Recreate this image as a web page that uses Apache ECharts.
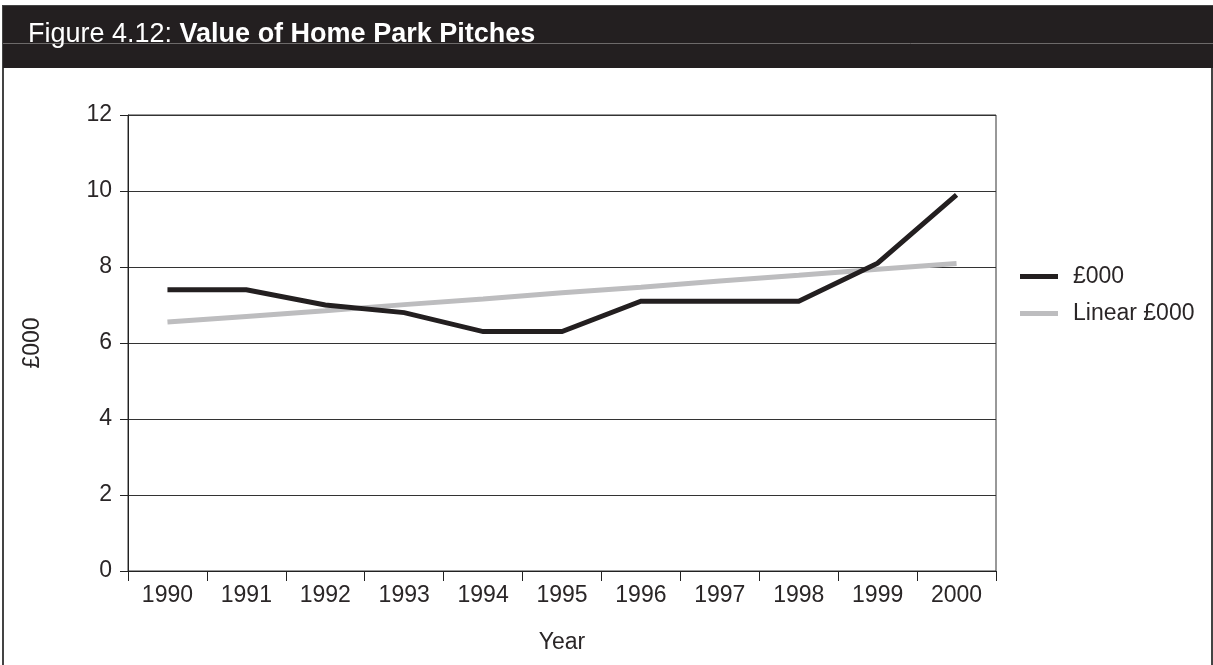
<!DOCTYPE html>
<html>
<head>
<meta charset="utf-8">
<script src="https://cdn.jsdelivr.net/npm/echarts@6/dist/echarts.min.js"></script>
<style>
  html, body { margin: 0; padding: 0; background: #fff; }
  #chart { width: 1213px; height: 665px; }
</style>
</head>
<body>
<div id="chart"></div>
<script>
// Pitch values by year, in £000
const years = ['1990', '1991', '1992', '1993', '1994', '1995', '1996', '1997', '1998', '1999', '2000'];
const pitchValue = [7.4, 7.4, 7.0, 6.8, 6.3, 6.3, 7.1, 7.1, 7.1, 8.1, 9.9];
const linearTrend = [6.55, 6.70, 6.85, 7.01, 7.16, 7.32, 7.47, 7.63, 7.78, 7.94, 8.09];
const yTicks = [0, 2, 4, 6, 8, 10, 12];

const FONT = '"Liberation Sans", Arial, Helvetica, sans-serif';
const ink = '#231f20';
const labelInk = '#2a2627';
const FS = 23;

const chart = echarts.init(document.getElementById('chart'), null, { renderer: 'canvas' });

chart.setOption({
  backgroundColor: '#fff',
  animation: false,
  textStyle: { fontFamily: FONT },
  graphic: [
    // page frame sides
    { type: 'rect', shape: { x: 3, y: 6, width: 1209, height: 665 },
      style: { fill: 'none', stroke: '#444', lineWidth: 2 }, z: 0 },
    // dark header band
    { type: 'rect', shape: { x: 3, y: 6, width: 1210, height: 62 },
      style: { fill: '#231f20' }, z: 1 },
    { type: 'line', shape: { x1: 3, y1: 43.5, x2: 1213, y2: 43.5 },
      style: { stroke: '#6d6a6a', lineWidth: 1 }, z: 2 },
    { type: 'text', x: 28, y: 35, z: 3,
      style: {
        text: '{n|Figure 4.12: }{b|Value of Home Park Pitches}',
        verticalAlign: 'middle',
        rich: {
          n: { fontFamily: FONT, fontSize: 27, fill: '#fff', fontWeight: 'normal' },
          b: { fontFamily: FONT, fontSize: 27, fill: '#fff', fontWeight: 'bold' }
        }
      } }
  ],
  grid: {
    left: 128, top: 115, right: 217, bottom: 94,
    show: true, borderColor: '#333', borderWidth: 1, backgroundColor: 'transparent'
  },
  legend: {
    orient: 'vertical',
    left: 1020, top: 265,
    padding: 0,
    itemWidth: 38, itemHeight: 5, itemGap: 14,
    icon: 'rect',
    textStyle: { fontFamily: FONT, fontSize: FS, color: labelInk, padding: [0, 0, 0, 10] },
    data: ['£000', 'Linear £000']
  },
  xAxis: {
    type: 'category',
    data: years,
    boundaryGap: true,
    name: 'Year',
    nameLocation: 'middle',
    nameGap: 60,
    nameTextStyle: { fontFamily: FONT, fontSize: FS, color: labelInk },
    axisLine: { show: true, lineStyle: { color: '#222', width: 1 } },
    axisTick: { show: true, length: 10, lineStyle: { color: '#222' } },
    axisLabel: { fontFamily: FONT, fontSize: FS, color: labelInk, margin: 13 },
    splitLine: { show: false }
  },
  yAxis: {
    type: 'value',
    min: yTicks[0],
    max: yTicks[yTicks.length - 1],
    interval: 2,
    name: '£000',
    nameLocation: 'middle',
    nameGap: 84,
    nameTextStyle: { fontFamily: FONT, fontSize: FS, color: labelInk },
    axisLine: { show: true, lineStyle: { color: '#222', width: 1 } },
    axisTick: { show: true, length: 8, lineStyle: { color: '#222' } },
    axisLabel: { fontFamily: FONT, fontSize: FS, color: labelInk, margin: 16 },
    splitLine: { show: true, lineStyle: { color: '#333', width: 1 } }
  },
  series: [
    {
      name: '£000',
      type: 'line',
      data: pitchValue,
      symbol: 'none',
      color: ink,
      lineStyle: { color: ink, width: 5, join: 'miter' },
      z: 3
    },
    {
      name: 'Linear £000',
      type: 'line',
      data: linearTrend,
      symbol: 'none',
      color: '#bdbdbf',
      lineStyle: { color: '#bdbdbf', width: 5 },
      z: 2
    }
  ]
});
</script>
</body>
</html>
